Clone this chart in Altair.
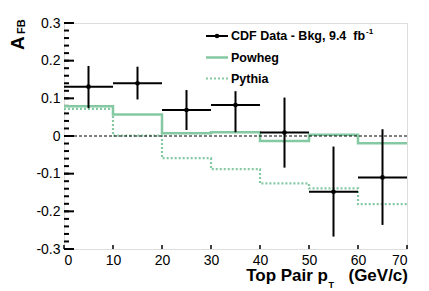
import altair as alt
import pandas as pd

# ---- data ----
bin_lo = [0, 10, 20, 30, 40, 50, 60]
bin_hi = [10, 20, 30, 40, 50, 60, 70]
data_val = [0.131, 0.140, 0.069, 0.082, 0.009, -0.148, -0.110]
data_hi = [0.186, 0.184, 0.122, 0.119, 0.102, -0.028, 0.018]
data_lo = [0.074, 0.097, 0.016, 0.010, -0.084, -0.267, -0.236]
powheg = [0.079, 0.057, 0.007, 0.010, -0.013, 0.003, -0.019]
pythia = [0.072, 0.001, -0.059, -0.088, -0.126, -0.139, -0.181]

y_major = [-0.3, -0.2, -0.1, 0.0, 0.1, 0.2, 0.3]
y_minor = [round(-0.3 + 0.02 * i, 2) for i in range(31)]
x_major = [0, 10, 20, 30, 40, 50, 60, 70]

W, H = 343, 226
XMIN, XMAX, YMIN, YMAX = 0, 70, -0.3, 0.3
FONT = "Liberation Sans"
GREEN = "#84c9a2"

xscale = alt.Scale(domain=[XMIN, XMAX], nice=False, zero=False)
yscale = alt.Scale(domain=[YMIN, YMAX], nice=False, zero=False)
xaxis = alt.Axis(values=x_major, domain=False, ticks=False, tickSize=0, grid=False,
                 labelFontSize=14, labelFont=FONT, labelColor="black", labelPadding=4,
                 title=None, format="d")
yaxis = alt.Axis(values=y_major, domain=False, ticks=False, tickSize=0, grid=False,
                 labelFontSize=14, labelFont=FONT, labelColor="black", labelPadding=4,
                 title=None,
                 labelExpr="datum.value == 0 ? '0' : replace(format(datum.value, '.1f'), '\u2212', '-')")


def X(field):
    return alt.X(field, type="quantitative", scale=xscale, axis=xaxis)


def Y(field):
    return alt.Y(field, type="quantitative", scale=yscale, axis=yaxis)


df = pd.DataFrame({"lo": bin_lo, "hi": bin_hi, "mid": [(a + b) / 2 for a, b in zip(bin_lo, bin_hi)],
                   "v": data_val, "eh": data_hi, "el": data_lo})

step_x = bin_lo + [bin_hi[-1]]
df_pow = pd.DataFrame({"x": step_x, "y": powheg + [powheg[-1]]})
df_pyt = pd.DataFrame({"x": step_x, "y": pythia + [pythia[-1]]})

pyt = alt.Chart(df_pyt).mark_line(interpolate="step-after", color=GREEN, strokeWidth=2.2,
                                  strokeDash=[2, 2]).encode(x=X("x"), y=Y("y"))
pow_ = alt.Chart(df_pow).mark_line(interpolate="step-after", color=GREEN,
                                   strokeWidth=2.5).encode(x=X("x"), y=Y("y"))

zero = alt.Chart(pd.DataFrame({"a": [XMIN], "b": [XMAX], "z": [0.0]})).mark_rule(
    color="black", strokeWidth=1, strokeDash=[3, 2]).encode(x=X("a"), x2="b", y=Y("z"))

hbar = alt.Chart(df).mark_rule(color="black", strokeWidth=2).encode(x=X("lo"), x2="hi", y=Y("v"))
vbar = alt.Chart(df).mark_rule(color="black", strokeWidth=2).encode(x=X("mid"), y=Y("el"), y2="eh")
pts = alt.Chart(df).mark_point(filled=True, color="black", size=22, opacity=1).encode(x=X("mid"), y=Y("v"))

# inward ticks (lengths in pixels converted to data units)
px_x = (XMAX - XMIN) / W
px_y = (YMAX - YMIN) / H
df_ymaj = pd.DataFrame({"tv": y_major, "a": [XMIN] * len(y_major), "b": [XMIN + 10 * px_x] * len(y_major)})
df_ymin = pd.DataFrame({"mv": y_minor, "a": [XMIN] * len(y_minor), "b": [XMIN + 5 * px_x] * len(y_minor)})
df_xmaj = pd.DataFrame({"xv": x_major, "c": [YMIN] * len(x_major), "d": [YMIN + 4 * px_y] * len(x_major)})

ymaj = alt.Chart(df_ymaj).mark_rule(color="black", strokeWidth=2).encode(
    x=X("a"), x2="b", y=Y("tv"))
ymin = alt.Chart(df_ymin).mark_rule(color="black", strokeWidth=2).encode(
    x=X("a"), x2="b", y=Y("mv"))
xmaj = alt.Chart(df_xmaj).mark_rule(color="black", strokeWidth=1.5).encode(
    x=X("xv"), y=Y("c"), y2="d")


def txt(text, x, y, size, align="left", angle=0, baseline="alphabetic"):
    return alt.Chart(pd.DataFrame({"s": [text]})).mark_text(
        font=FONT, fontWeight="bold", fontSize=size, align=align, baseline=baseline,
        angle=angle, color="black").encode(text="s:N", x=alt.value(x), y=alt.value(y))


titles = [
    txt("A", -40, 27, 19, angle=270),
    txt("FB", -39, 11, 11, angle=270),
    txt("Top Pair p", 264, 258, 17, align="right"),
    txt("T", 264.5, 265, 9),
    txt("(GeV/c)", 344, 258, 17, align="right"),
]

# legend
leg_rows = [13, 34.5, 55.5]
leg_x0, leg_x1, leg_tx = 142, 164, 167
legend = [
    alt.Chart(pd.DataFrame({"k": [0]})).mark_rule(color="black", strokeWidth=2).encode(
        x=alt.value(leg_x0), x2=alt.value(leg_x1), y=alt.value(leg_rows[0])),
    alt.Chart(pd.DataFrame({"k": [0]})).mark_point(filled=True, color="black", size=20, opacity=1).encode(
        x=alt.value((leg_x0 + leg_x1) / 2), y=alt.value(leg_rows[0])),
    alt.Chart(pd.DataFrame({"k": [0]})).mark_rule(color=GREEN, strokeWidth=2.5).encode(
        x=alt.value(leg_x0), x2=alt.value(leg_x1), y=alt.value(leg_rows[1])),
    alt.Chart(pd.DataFrame({"k": [0]})).mark_rule(color=GREEN, strokeWidth=2.2, strokeDash=[2, 2]).encode(
        x=alt.value(leg_x0), x2=alt.value(leg_x1), y=alt.value(leg_rows[2])),
    txt("CDF Data - Bkg, 9.4\u00a0 fb", leg_tx, leg_rows[0], 12.5, baseline="middle"),
    txt("-1", 302, leg_rows[0] - 4, 8, baseline="middle"),
    txt("Powheg", leg_tx, leg_rows[1], 12.5, baseline="middle"),
    txt("Pythia", leg_tx, leg_rows[2], 12.5, baseline="middle"),
]

chart = alt.layer(ymin, ymaj, xmaj, pyt, pow_, zero, hbar, vbar, pts, *titles, *legend).properties(
    width=W, height=H,
    autosize=alt.AutoSizeParams(type="none"),
    padding={"left": 56, "top": 15, "right": 14, "bottom": 41},
).configure_view(stroke="black", strokeWidth=2).configure(background="white")

chart.save("out.html", embed_options={"renderer": "svg", "actions": False})
